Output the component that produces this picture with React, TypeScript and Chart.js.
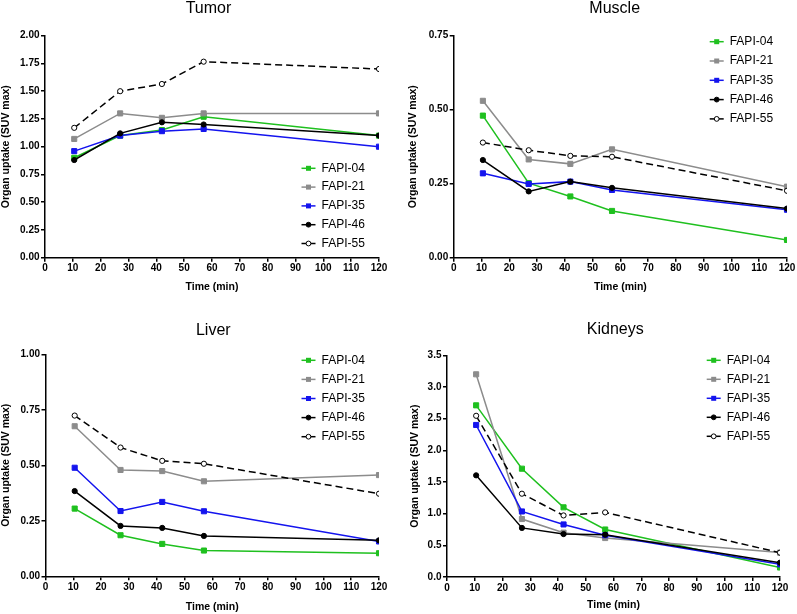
import React, { useEffect, useRef } from "react";
import { Chart, registerables } from "chart.js";

Chart.register(...registerables);

const seriesNames = ["FAPI-04", "FAPI-21", "FAPI-35", "FAPI-46", "FAPI-55"];
const timeMinutes = [10.5, 27, 42, 57, 120];

const tumorValues = [
  [0.9, 1.1, 1.15, 1.27, 1.1],
  [1.07, 1.3, 1.26, 1.3, 1.3],
  [0.96, 1.1, 1.14, 1.16, 1.0],
  [0.88, 1.12, 1.22, 1.2, 1.1],
  [1.17, 1.5, 1.565, 1.766, 1.7],
];
const muscleValues = [
  [0.48, 0.252, 0.207, 0.158, 0.06],
  [0.53, 0.332, 0.317, 0.366, 0.24],
  [0.285, 0.249, 0.257, 0.229, 0.162],
  [0.33, 0.224, 0.257, 0.236, 0.166],
  [0.389, 0.363, 0.344, 0.341, 0.226],
];
const liverValues = [
  [0.305, 0.185, 0.146, 0.116, 0.104],
  [0.676, 0.479, 0.474, 0.428, 0.456],
  [0.489, 0.294, 0.335, 0.293, 0.157],
  [0.384, 0.227, 0.218, 0.182, 0.162],
  [0.724, 0.58, 0.52, 0.507, 0.372],
];
const kidneyValues = [
  [2.71, 1.71, 1.1, 0.75, 0.15],
  [3.2, 0.915, 0.7, 0.615, 0.385],
  [2.4, 1.035, 0.83, 0.66, 0.2],
  [1.605, 0.775, 0.678, 0.668, 0.226],
  [2.545, 1.315, 0.972, 1.02, 0.384],
];

const xTitle = "Time (min)";
const yTitle = "Organ uptake (SUV max)";

// styles
const seriesColors = ["#1fc01f", "#8c8c8c", "#1414ee", "#000000", "#000000"];
const seriesFill = ["#1fc01f", "#8c8c8c", "#1414ee", "#000000", "#ffffff"];
const seriesShape = ["rect", "rect", "rect", "circle", "circle"];
const seriesDash = [[], [], [], [], [7, 4]];
const FONT = '"Liberation Sans", Arial, Helvetica, sans-serif';

type Layout = {
  left: number; top: number; w: number; h: number;
  areaLeft: number; areaRight: number; areaTop: number; areaBottom: number;
  yAxisLeft: number; xTitleY: number;
  titleX: number; titleY: number;
  legendX: number; legendY: number; legendStep: number;
};

type PanelProps = {
  title: string;
  values: number[][];
  yMax: number;
  yStep: number;
  decimals: number;
  layout: Layout;
};

function Panel({ title, values, yMax, yStep, decimals, layout: L }: PanelProps) {
  const ref = useRef<HTMLCanvasElement>(null);
  useEffect(() => {
    const titleHalf = (10.5 * 1.2) / 2;
    const xAxisBottom = L.xTitleY + titleHalf;
    const decor = {
      id: "panelDecor",
      afterDraw(chart: any) {
        const ctx = chart.ctx as CanvasRenderingContext2D;
        ctx.save();
        ctx.fillStyle = "#000";
        ctx.font = `16px ${FONT}`;
        ctx.textAlign = "center";
        ctx.textBaseline = "middle";
        ctx.fillText(title, L.titleX, L.titleY);
        ctx.font = `12px ${FONT}`;
        ctx.textAlign = "left";
        seriesNames.forEach((name, i) => {
          const y = L.legendY + i * L.legendStep;
          const cx = L.legendX;
          ctx.setLineDash([]);
          ctx.strokeStyle = seriesColors[i];
          ctx.lineWidth = 1.5;
          ctx.beginPath();
          ctx.moveTo(cx - 7, y);
          ctx.lineTo(cx + 7, y);
          ctx.stroke();
          ctx.fillStyle = seriesFill[i];
          ctx.lineWidth = 1;
          if (seriesShape[i] === "rect") {
            ctx.fillRect(cx - 2.5, y - 2.5, 5, 5);
          } else {
            ctx.beginPath();
            ctx.arc(cx, y, 2.4, 0, Math.PI * 2);
            ctx.fill();
            ctx.stroke();
          }
          ctx.fillStyle = "#000";
          ctx.fillText(name, cx + 13, y);
        });
        ctx.restore();
      },
    };

    const datasets = seriesNames.map((name, i) => ({
      label: name,
      data: timeMinutes.map((t, k) => ({ x: t, y: values[i][k] })),
      borderColor: seriesColors[i],
      backgroundColor: seriesFill[i],
      pointBackgroundColor: seriesFill[i],
      pointBorderColor: seriesColors[i],
      pointStyle: seriesShape[i],
      pointRadius: seriesShape[i] === "rect" ? 3.6 : 2.6,
      pointBorderWidth: 1,
      borderWidth: 1.5,
      borderDash: seriesDash[i],
      tension: 0,
      fill: false,
      order: seriesNames.length - i,
    }));

    const chart = new Chart(ref.current!, {
      type: "line",
      data: { datasets } as any,
      options: {
        responsive: false,
        animation: false,
        devicePixelRatio: 1,
        layout: {
          padding: {
            left: L.yAxisLeft,
            right: L.w - L.areaRight,
            top: L.areaTop,
            bottom: L.h - xAxisBottom,
          },
        },
        plugins: {
          legend: { display: false },
          title: { display: false },
          tooltip: { enabled: false },
        },
        scales: {
          x: {
            type: "linear",
            min: 0,
            max: 120,
            ticks: {
              stepSize: 10,
              autoSkip: false,
              maxRotation: 0,
              color: "#000",
              padding: 1,
              font: { family: FONT, size: 10, weight: "bold" },
            },
            grid: { drawOnChartArea: false, drawTicks: true, tickLength: 4, color: "#000", lineWidth: 1.5 },
            border: { display: true, color: "#000", width: 1.5 },
            title: {
              display: true,
              text: xTitle,
              color: "#000",
              padding: 0,
              font: { family: FONT, size: 10.5, weight: "bold", lineHeight: 1.2 },
            },
            afterFit: (s: any) => {
              s.height = xAxisBottom - L.areaBottom;
            },
          },
          y: {
            type: "linear",
            min: 0,
            max: yMax,
            ticks: {
              stepSize: yStep,
              autoSkip: false,
              color: "#000",
              padding: 1.5,
              font: { family: FONT, size: 10, weight: "bold" },
              callback: (v: any) => Number(v).toFixed(decimals),
            },
            grid: { drawOnChartArea: false, drawTicks: true, tickLength: 4, color: "#000", lineWidth: 1.5 },
            border: { display: true, color: "#000", width: 1.5 },
            title: {
              display: true,
              text: yTitle,
              color: "#000",
              padding: 0,
              font: { family: FONT, size: 10.5, weight: "bold", lineHeight: 1.2 },
            },
            afterFit: (s: any) => {
              s.width = L.areaLeft - L.yAxisLeft;
            },
          },
        },
      } as any,
      plugins: [decor],
    });
    return () => chart.destroy();
  }, []);
  return (
    <div style={{ position: "absolute", left: L.left, top: L.top, width: L.w, height: L.h }}>
      <canvas ref={ref} width={L.w} height={L.h} style={{ width: L.w, height: L.h, display: "block" }} />
    </div>
  );
}

const tumorLayout: Layout = {
  left: 0, top: 0, w: 398, h: 307,
  areaLeft: 45, areaRight: 379, areaTop: 35.7, areaBottom: 257.7,
  yAxisLeft: 0, xTitleY: 287.3, titleX: 208.5, titleY: 8.5,
  legendX: 308.5, legendY: 168.3, legendStep: 18.8,
};
const muscleLayout: Layout = {
  left: 398, top: 0, w: 399, h: 307,
  areaLeft: 55.7, areaRight: 389, areaTop: 35.7, areaBottom: 257.7,
  yAxisLeft: 9.1, xTitleY: 287.3, titleX: 216.7, titleY: 9,
  legendX: 318.7, legendY: 41.7, legendStep: 19.3,
};
const liverLayout: Layout = {
  left: 0, top: 307, w: 398, h: 307,
  areaLeft: 45.5, areaRight: 379, areaTop: 47.3, areaBottom: 269.3,
  yAxisLeft: 0, xTitleY: 300, titleX: 213.3, titleY: 24,
  legendX: 308.5, legendY: 53.3, legendStep: 19.1,
};
const kidneyLayout: Layout = {
  left: 398, top: 307, w: 399, h: 307,
  areaLeft: 49, areaRight: 382, areaTop: 48.3, areaBottom: 270,
  yAxisLeft: 10.7, xTitleY: 298.3, titleX: 217.3, titleY: 22.5,
  legendX: 315.7, legendY: 53.3, legendStep: 19,
};

export default function App() {
  return (
    <div style={{ position: "absolute", left: 0, top: 0, width: 797, height: 614, background: "#fff", overflow: "hidden" }}>
      <Panel title="Tumor" values={tumorValues} yMax={2} yStep={0.25} decimals={2} layout={tumorLayout} />
      <Panel title="Muscle" values={muscleValues} yMax={0.75} yStep={0.25} decimals={2} layout={muscleLayout} />
      <Panel title="Liver" values={liverValues} yMax={1} yStep={0.25} decimals={2} layout={liverLayout} />
      <Panel title="Kidneys" values={kidneyValues} yMax={3.5} yStep={0.5} decimals={1} layout={kidneyLayout} />
    </div>
  );
}
